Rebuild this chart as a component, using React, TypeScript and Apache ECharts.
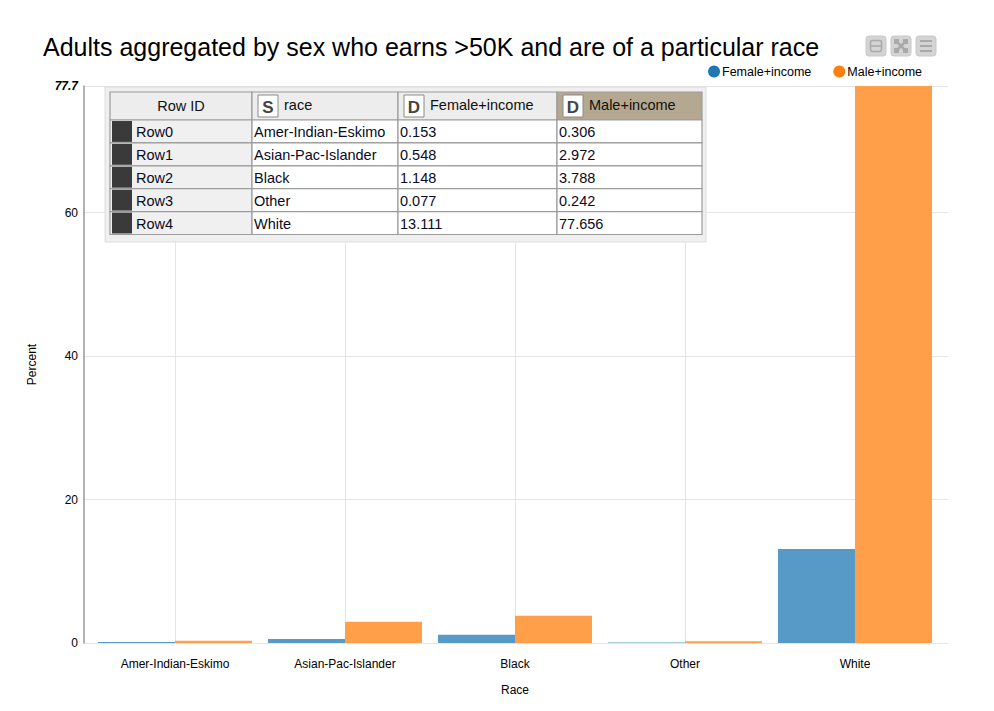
import React, { useEffect, useRef } from "react";
import * as echarts from "echarts";

const categories = ["Amer-Indian-Eskimo", "Asian-Pac-Islander", "Black", "Other", "White"];
const femaleIncome = [0.153, 0.548, 1.148, 0.077, 13.111];
const maleIncome = [0.306, 2.972, 3.788, 0.242, 77.656];
const seriesNames = ["Female+income", "Male+income"];
const tableHeaders = ["Row ID", "race", "Female+income", "Male+income"];
const headerTypes = ["", "S", "D", "D"];
const yTicks = [0, 20, 40, 60];

const FONT = "'Liberation Sans', Arial, sans-serif";
const TZ = 100;

function buildTable(): any[] {
  const colX = [110, 252, 398, 557, 702];
  const headTop = 92;
  const headH = 28;
  const rowTop = 120;
  const rowH = 22.9;
  const els: any[] = [];
  const stroke = "#9c9c9c";
  els.push({
    type: "rect", z: TZ,
    shape: { x: 105, y: 87, width: 601, height: 155 },
    style: { fill: "#efefef", stroke: "#dcdcdc", lineWidth: 1 },
  });
  for (let i = 0; i < 4; i++) {
    const x = colX[i];
    const w = colX[i + 1] - colX[i];
    els.push({
      type: "rect", z: TZ,
      shape: { x, y: headTop, width: w, height: headH },
      style: { fill: i === 3 ? "#b5a890" : "#ededed", stroke, lineWidth: 1.2 },
    });
    if (i === 0) {
      els.push({
        type: "text", z: TZ + 1,
        style: {
          text: tableHeaders[i], x: x + w / 2, y: headTop + headH / 2,
          fill: "#111", font: `14.5px ${FONT}`, textAlign: "center", verticalAlign: "middle", textVerticalAlign: "middle",
        },
      });
    } else {
      els.push({
        type: "rect", z: TZ + 1,
        shape: { x: x + 6, y: headTop + 3, width: 20, height: 22 },
        style: { fill: "#ffffff", stroke: "#8a8a8a", lineWidth: 1 },
      });
      els.push({
        type: "text", z: TZ + 2,
        style: {
          text: headerTypes[i], x: x + 16, y: headTop + headH / 2 + 1,
          fill: "#444", font: `bold 17px ${FONT}`, textAlign: "center", verticalAlign: "middle", textVerticalAlign: "middle",
        },
      });
      els.push({
        type: "text", z: TZ + 1,
        style: {
          text: tableHeaders[i], x: x + 32, y: headTop + headH / 2 - 1,
          fill: "#111", font: `14.5px ${FONT}`, textAlign: "left", verticalAlign: "middle", textVerticalAlign: "middle",
        },
      });
    }
  }
  categories.forEach((cat, r) => {
    const y = rowTop + r * rowH;
    const vals = ["Row" + r, cat, femaleIncome[r].toFixed(3), maleIncome[r].toFixed(3)];
    for (let i = 0; i < 4; i++) {
      const x = colX[i];
      const w = colX[i + 1] - colX[i];
      els.push({
        type: "rect", z: TZ,
        shape: { x, y, width: w, height: rowH },
        style: { fill: i === 0 ? "#f0f0f0" : "#ffffff", stroke, lineWidth: 1.2 },
      });
      if (i === 0) {
        els.push({
          type: "rect", z: TZ + 1,
          shape: { x: x + 2, y: y + 1, width: 20, height: rowH - 2 },
          style: { fill: "#3a3a3a" },
        });
      }
      els.push({
        type: "text", z: TZ + 1,
        style: {
          text: vals[i], x: i === 0 ? x + 26 : x + 2, y: y + rowH / 2 + 1,
          fill: "#0a0a1e", font: `14.5px ${FONT}`, textAlign: "left", verticalAlign: "middle", textVerticalAlign: "middle",
        },
      });
    }
  });
  return els;
}

function buildToolbar(): any[] {
  const els: any[] = [];
  const xs = [866, 891, 916];
  const y = 36;
  const glyph = "#a9a9a9";
  xs.forEach((x) => {
    els.push({
      type: "rect", z: TZ,
      shape: { x, y, width: 20, height: 20, r: 3 },
      style: { fill: "#d4d4d4", stroke: "#c8c8c8", lineWidth: 1 },
    });
  });
  els.push({ type: "rect", z: TZ + 1, shape: { x: 870.5, y: 40.5, width: 11, height: 11, r: 2 }, style: { fill: "none", stroke: glyph, lineWidth: 1.5 } });
  els.push({ type: "line", z: TZ + 1, shape: { x1: 871, y1: 46, x2: 881, y2: 46 }, style: { stroke: glyph, lineWidth: 1.5 } });
  els.push({ type: "line", z: TZ + 1, shape: { x1: 895, y1: 40, x2: 907, y2: 52 }, style: { stroke: glyph, lineWidth: 2.5 } });
  els.push({ type: "line", z: TZ + 1, shape: { x1: 907, y1: 40, x2: 895, y2: 52 }, style: { stroke: glyph, lineWidth: 2.5 } });
  els.push({ type: "rect", z: TZ + 1, shape: { x: 894, y: 39, width: 5, height: 5 }, style: { fill: glyph } });
  els.push({ type: "rect", z: TZ + 1, shape: { x: 903, y: 39, width: 5, height: 5 }, style: { fill: glyph } });
  els.push({ type: "rect", z: TZ + 1, shape: { x: 894, y: 48, width: 5, height: 5 }, style: { fill: glyph } });
  els.push({ type: "rect", z: TZ + 1, shape: { x: 903, y: 48, width: 5, height: 5 }, style: { fill: glyph } });
  [41, 46, 51].forEach((yy) => {
    els.push({ type: "line", z: TZ + 1, shape: { x1: 920, y1: yy, x2: 932, y2: yy }, style: { stroke: glyph, lineWidth: 2 } });
  });
  return els;
}

export default function App() {
  const ref = useRef<HTMLDivElement>(null);
  useEffect(() => {
    if (!ref.current) return;
    const chart = echarts.init(ref.current, undefined, { renderer: "svg" });
    const yMax = Math.max(...maleIncome, ...femaleIncome);
    const option: any = {
      animation: false,
      backgroundColor: "#ffffff",
      textStyle: { fontFamily: FONT },
      title: {
        text: "Adults aggregated by sex who earns >50K and are of a particular race",
        left: 38,
        top: 29,
        textStyle: { fontSize: 25, fontWeight: "normal", color: "#000", fontFamily: FONT },
      },
      legend: {
        data: [
          { name: seriesNames[0], itemStyle: { color: "#1f77b4" } },
          { name: seriesNames[1], itemStyle: { color: "#ff7f0e" } },
        ],
        icon: "circle",
        itemWidth: 12,
        itemHeight: 12,
        itemGap: 22,
        right: 67,
        top: 60,
        textStyle: { fontSize: 12.5, color: "#000", fontFamily: FONT, padding: [0, 0, 0, -3] },
      },
      grid: [
        { left: 84, right: 46, top: 86, bottom: 68 },
        { left: 90, right: 54, top: 86, bottom: 68 },
      ],
      xAxis: [
        { type: "value", gridIndex: 0, min: 0, max: 1, show: false },
        {
          type: "category",
          gridIndex: 1,
          data: categories,
          name: "Race",
          nameLocation: "middle",
          nameGap: 41,
          nameTextStyle: { fontSize: 12, color: "#000" },
          axisLine: { show: false },
          axisTick: { show: false, alignWithLabel: true },
          axisLabel: { margin: 15, fontSize: 12, color: "#000" },
          splitLine: { show: true, alignWithLabel: true, lineStyle: { color: "#e5e5e5", width: 1 } },
        },
      ],
      yAxis: [
        {
          type: "value",
          gridIndex: 0,
          min: 0,
          max: yMax,
          interval: 20,
          name: "Percent",
          nameLocation: "middle",
          nameGap: 46,
          nameRotate: 90,
          nameTextStyle: { fontSize: 12, color: "#000" },
          axisLine: { show: true, lineStyle: { color: "#999", width: 1.5 } },
          axisTick: { show: false },
          axisLabel: {
            margin: 6,
            fontSize: 12,
            color: "#000",
            showMaxLabel: true,
            formatter: (v: number) => (yTicks.indexOf(v) >= 0 ? String(v) : "{m|" + v.toFixed(1) + "}"),
            rich: { m: { fontWeight: "bold", fontStyle: "italic", fontSize: 12, color: "#000" } },
          },
          splitLine: { show: true, lineStyle: { color: "#e5e5e5", width: 1 } },
        },
        { type: "value", gridIndex: 1, min: 0, max: yMax, show: false, splitLine: { show: false } },
      ],
      series: [
        {
          name: seriesNames[0],
          type: "bar",
          xAxisIndex: 1,
          yAxisIndex: 1,
          data: femaleIncome,
          barGap: "0%",
          barCategoryGap: "9.4%",
          itemStyle: { color: "#5799c7" },
        },
        {
          name: seriesNames[1],
          type: "bar",
          xAxisIndex: 1,
          yAxisIndex: 1,
          data: maleIncome,
          barGap: "0%",
          barCategoryGap: "9.4%",
          itemStyle: { color: "#ff9f4a" },
        },
      ],
      graphic: [...buildTable(), ...buildToolbar()],
    };
    chart.setOption(option);
    return () => chart.dispose();
  }, []);
  return <div ref={ref} style={{ position: "absolute", left: 0, top: 0, width: 994, height: 711 }} />;
}
